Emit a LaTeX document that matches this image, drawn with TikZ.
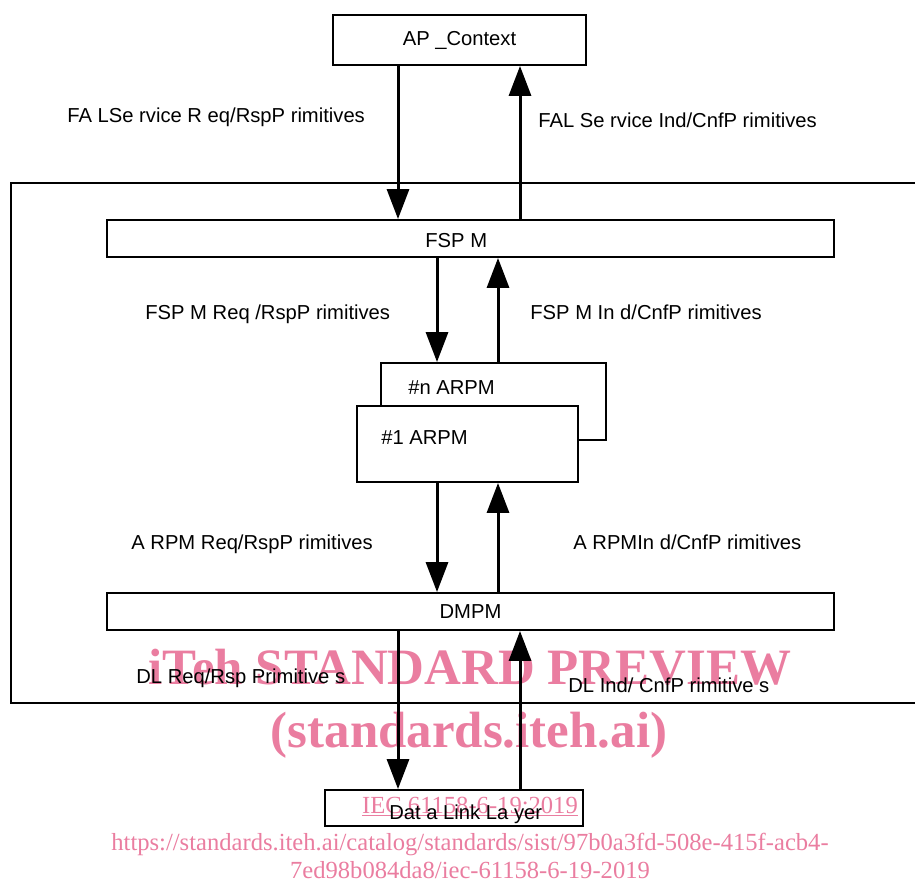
\documentclass[tikz,border=0pt]{standalone}
\usepackage{fontspec}
\setmainfont{Liberation Sans}
\newfontfamily\wmfont{Liberation Serif}
\usetikzlibrary{arrows.meta}
\definecolor{wmpink}{RGB}{234,125,160}
\newlength\pxu
\setlength\pxu{0.02cm}

\begin{document}
\begin{tikzpicture}[x=0.02cm, y=-0.02cm,
		blockbox/.style={draw, line width=1.1pt, inner sep=0pt, fill=white,
		font=\fontsize{11.5}{13}\selectfont},
		sigarrow/.style={line width=1.7pt, -{Triangle[length=17pt, width=12.5pt]}},
		siglabel/.style={anchor=base west, inner sep=0pt, font=\fontsize{11.5}{13}\selectfont},
		wmtext/.style={text=wmpink, inner sep=0pt, anchor=base, font=\wmfont\fontsize{14}{16}\selectfont}
		]
		\useasboundingbox (0,0) rectangle (915,883);

		\node[wmtext, font=\wmfont\bfseries\fontsize{29}{32}\selectfont](W0) at (470,684){iTeh STANDARD PREVIEW};
		\node[wmtext, font=\wmfont\bfseries\fontsize{29}{32}\selectfont](W1) at (469,747){(standards.iteh.ai)};
		\node[wmtext](W2) at (470,813){\underline{IEC 61158-6-19:2019}};
		\node[wmtext](W3) at (470,850){https://standards.iteh.ai/catalog/standards/sist/97b0a3fd-508e-415f-acb4-};
		\node[wmtext](W4) at (470,878){7ed98b084da8/iec-61158-6-19-2019};

		\draw[line width=1.1pt] (915,183) -- (11,183) -- (11,703) -- (915,703);

		\coordinate (cL) at (398,0);
		\coordinate (cR) at (520,0);
		\coordinate (iL) at (437,0);
		\coordinate (iR) at (498,0);

		\node[blockbox, minimum width=253\pxu, minimum height=50\pxu](apctx) at (459.5,40){AP \_Context};
		\node[blockbox, minimum width=727\pxu, minimum height=37\pxu](fspm) at (470.5,238.5){};
		\node[blockbox, minimum width=225\pxu, minimum height=77\pxu](arpmn) at (493.5,401.5){};
		\node[blockbox, minimum width=221\pxu, minimum height=76\pxu](arpm1) at (467.5,444){};
		\node[blockbox, minimum width=727\pxu, minimum height=37\pxu](dmpm) at (470.5,611.5){DMPM};
		\node[blockbox, minimum width=258\pxu, minimum height=36\pxu, fill=none](dll) at (454,808){};
		\node[siglabel](fspmtxt) at (425,247){FSP M};
		\node[siglabel](arpmntxt) at (408,394){\#n ARPM};
		\node[siglabel](arpm1txt) at (381,444){\#1 ARPM};
		\node[siglabel](dlltxt) at (389,819){Dat a Link La yer};

		\draw[sigarrow] (apctx.south -| cL) -- (fspm.north -| cL);
		\draw[sigarrow] (fspm.north -| cR) -- (apctx.south -| cR);
		\draw[sigarrow] (fspm.south -| iL) -- (arpmn.north -| iL);
		\draw[sigarrow] (arpmn.north -| iR) -- (fspm.south -| iR);
		\draw[sigarrow] (arpm1.south -| iL) -- (dmpm.north -| iL);
		\draw[sigarrow] (dmpm.north -| iR) -- (arpm1.south -| iR);
		\draw[sigarrow] (dmpm.south -| cL) -- (dll.north -| cL);
		\draw[sigarrow] (dll.north -| cR) -- (dmpm.south -| cR);

		\node[siglabel](L1) at (67,122){FA LSe rvice R eq/RspP rimitives};
		\node[siglabel](L2) at (538,127){FAL Se rvice Ind/CnfP rimitives};
		\node[siglabel](L3) at (145,319){FSP M Req /RspP rimitives};
		\node[siglabel](L4) at (530,319){FSP M In d/CnfP rimitives};
		\node[siglabel](L5) at (131,549){A RPM Req/RspP rimitives};
		\node[siglabel](L6) at (573,549){A RPMIn d/CnfP rimitives};
		\node[siglabel](L7) at (136,683){DL Req/Rsp Primitive s};
		\node[siglabel](L8) at (568,692){DL Ind/ CnfP rimitive s};
	\end{tikzpicture}
\end{document}
